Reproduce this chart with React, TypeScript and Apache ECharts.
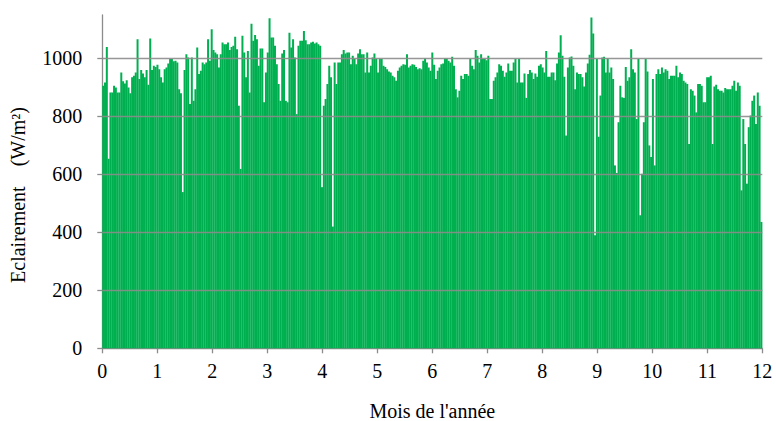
import React, { useEffect, useRef } from "react";
import * as echarts from "echarts";

// Daily peak irradiance (W/m²), grouped by month
const JAN = [906, 917, 1040, 654, 883, 883, 906, 900, 883, 883, 952, 921, 914, 925, 900, 880, 935, 940, 952, 1066, 929, 960, 948, 935, 960, 909, 1069, 960, 975, 971, 978];
const FEB = [963, 935, 917, 963, 969, 983, 998, 998, 990, 992, 986, 894, 880, 539, 960, 1015, 1003, 843, 1003, 854, 894, 1038, 946, 958, 986, 980, 986, 1066];
const MAR = [992, 1101, 1029, 1021, 1015, 969, 1015, 1055, 1049, 1049, 1055, 1029, 1040, 1044, 1075, 1032, 837, 619, 1078, 1021, 935, 1026, 883, 1120, 1061, 1081, 1066, 975, 1034, 1034, 849];
const APR = [952, 1021, 1139, 1072, 1072, 1044, 980, 912, 854, 1017, 1029, 854, 849, 1089, 1038, 1066, 1003, 808, 1044, 1061, 1061, 1095, 1063, 1049, 1049, 1055, 1058, 1052, 1055, 1049];
const MAY = [1044, 556, 837, 860, 912, 975, 935, 420, 986, 912, 986, 986, 1015, 1029, 1017, 1021, 1021, 980, 1009, 998, 980, 1017, 1032, 1015, 1015, 952, 1021, 952, 975, 1003, 1017];
const JUN = [998, 952, 998, 998, 975, 971, 963, 955, 952, 940, 935, 923, 958, 969, 975, 980, 978, 1015, 969, 975, 980, 978, 971, 963, 966, 963, 992, 1001, 986, 969];
const JUL = [958, 1021, 978, 929, 958, 969, 980, 983, 1000, 1000, 992, 986, 1006, 975, 894, 866, 889, 940, 929, 946, 946, 940, 998, 975, 963, 1029, 1009, 986, 1015, 998, 998];
const AUG = [994, 1009, 860, 860, 923, 935, 952, 980, 975, 958, 937, 952, 983, 958, 958, 986, 998, 917, 998, 917, 917, 948, 864, 946, 960, 952, 929, 948, 937, 975, 980];
const SEP = [969, 952, 1026, 937, 937, 952, 952, 925, 983, 1021, 1080, 1009, 937, 734, 969, 1003, 1007, 975, 894, 952, 946, 946, 935, 903, 952, 983, 1013, 1141, 1086, 390];
const OCT = [998, 730, 872, 1003, 1006, 952, 1000, 952, 969, 929, 631, 605, 780, 906, 866, 864, 971, 923, 935, 1032, 963, 952, 791, 998, 459, 602, 780, 998, 955, 700, 660];
const NOV = [929, 631, 946, 963, 946, 969, 952, 963, 958, 929, 940, 940, 940, 975, 935, 952, 946, 923, 917, 912, 705, 894, 889, 872, 814, 912, 912, 906, 849, 849];
const DEC = [935, 935, 940, 705, 903, 909, 894, 889, 889, 883, 898, 894, 894, 894, 906, 923, 889, 917, 906, 545, 791, 705, 568, 763, 803, 854, 872, 774, 883, 837, 436];

const MONTHS_IN_YEAR = 12;
const Y_TICKS = [0, 200, 400, 600, 800, 1000];
const GRID_LINES = [200, 400, 600, 800, 1000];
const Y_MAX = 1150;

const X_TITLE = "Mois de l'année";
const Y_TITLE = "Eclairement    (W/m²)";

export default function App() {
  const ref = useRef<HTMLDivElement>(null);

  useEffect(() => {
    if (!ref.current) return;
    const chart = echarts.init(ref.current, null, { renderer: "svg" });
    const all = [...JAN, ...FEB, ...MAR, ...APR, ...MAY, ...JUN, ...JUL, ...AUG, ...SEP, ...OCT, ...NOV, ...DEC];
    const data = all.map((v, i) => [((i + 0.5) * MONTHS_IN_YEAR) / all.length, v]);
    const font = "Liberation Serif";
    const gray = "#8c8c8c";

    chart.setOption({
      animation: false,
      backgroundColor: "#ffffff",
      textStyle: { fontFamily: font },
      grid: { left: 102.3, right: 13.7, top: 15, bottom: 72.7, containLabel: false, outerBoundsMode: "none" },
      xAxis: {
        type: "value",
        min: 0,
        max: 12,
        interval: 1,
        name: X_TITLE,
        nameLocation: "middle",
        nameGap: 53,
        nameTextStyle: { fontFamily: font, fontSize: 20, color: "#000" },
        axisLine: { show: true, lineStyle: { color: gray, width: 1.3 } },
        axisTick: { show: true, inside: false, length: 5, lineStyle: { color: gray, width: 1.3 } },
        axisLabel: { fontFamily: font, fontSize: 20, color: "#000", margin: 13, formatter: (v: number) => String(v) },
        splitLine: { show: false },
      },
      yAxis: {
        type: "value",
        min: 0,
        max: Y_MAX,
        axisLine: { show: true, lineStyle: { color: gray, width: 1.3 } },
        axisTick: { show: true, inside: false, length: 5, customValues: Y_TICKS, lineStyle: { color: gray, width: 1.3 } },
        axisLabel: {
          fontFamily: font,
          fontSize: 20,
          color: "#000",
          margin: 20,
          customValues: Y_TICKS,
          formatter: (v: number) => String(v),
        },
        splitLine: { show: false },
      },
      graphic: [
        {
          type: "text",
          x: 18,
          y: 195,
          rotation: Math.PI / 2,
          style: {
            text: Y_TITLE,
            fontFamily: font,
            fontSize: 20,
            fill: "#000",
            align: "center",
            verticalAlign: "middle",
          },
        },
      ],
      series: [
        {
          type: "bar",
          data,
          barWidth: 2,
          itemStyle: { color: "#00B050" },
          markLine: {
            silent: true,
            symbol: ["none", "none"],
            label: { show: false },
            lineStyle: { color: gray, type: "solid", width: 1.3, opacity: 0.9 },
            data: GRID_LINES.map((v) => ({ yAxis: v })),
          },
        },
      ],
    });
    return () => chart.dispose();
  }, []);

  return <div ref={ref} style={{ position: "fixed", left: 0, top: 0, width: 776, height: 421 }} />;
}
